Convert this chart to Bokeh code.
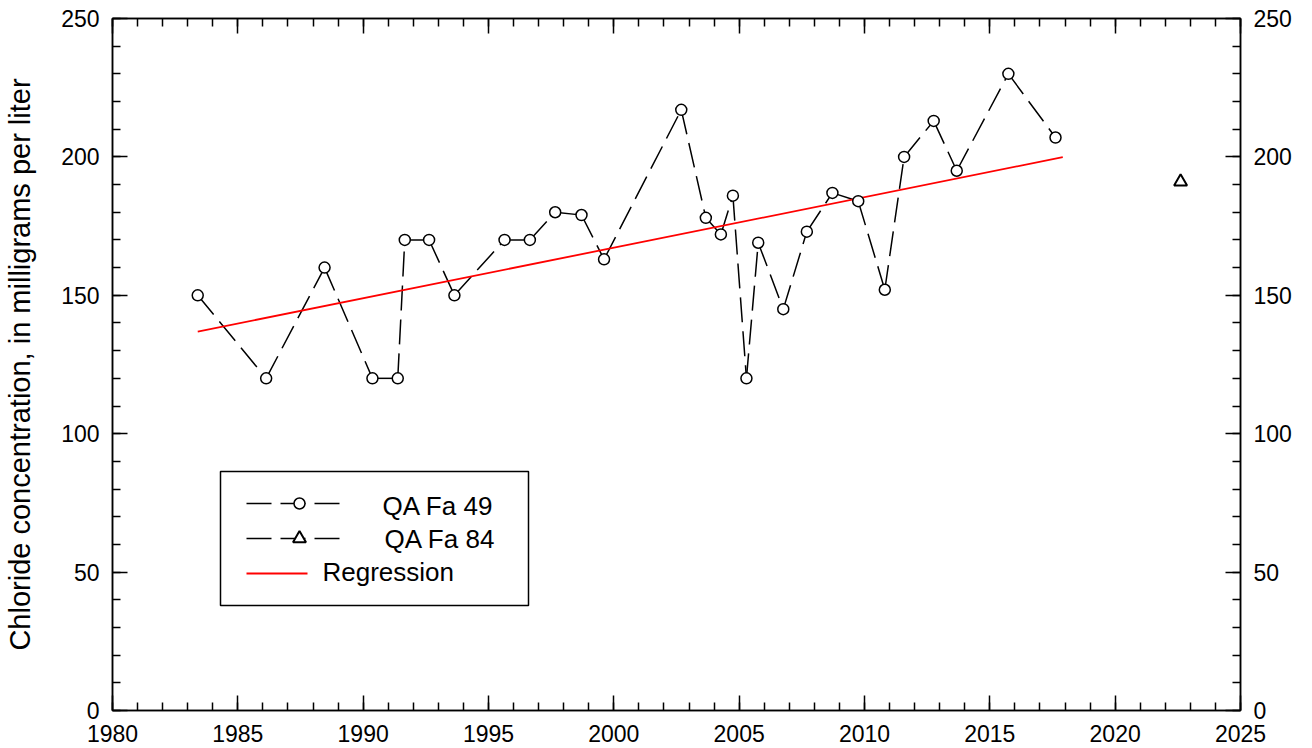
from bokeh.plotting import figure
from bokeh.models import (LinearAxis, SingleIntervalTicker, BoxAnnotation, Label,
                          CustomLabelingPolicy)
from bokeh.embed import file_html
from bokeh.resources import INLINE

# ---------------- data ----------------
fa49_year = [1983.40, 1986.13, 1988.46, 1990.37, 1991.38, 1991.66, 1992.63, 1993.64,
             1995.64, 1996.65, 1997.66, 1998.71, 1999.61, 2002.69, 2003.67, 2004.27,
             2004.75, 2005.29, 2005.76, 2006.76, 2007.70, 2008.72, 2009.75, 2010.81,
             2011.58, 2012.76, 2013.68, 2015.74, 2017.62]
fa49_chloride = [150, 120, 160, 120, 120, 170, 170, 150,
                 170, 170, 180, 179, 163, 217, 178, 172,
                 186, 120, 169, 145, 173, 187, 184, 152,
                 200, 213, 195, 230, 207]
fa84_year = [2022.61]
fa84_chloride = [191]
reg_year = [1983.40, 2017.91]
reg_chloride = [136.9, 199.9]

series_names = ["QA Fa 49", "QA Fa 84", "Regression"]
y_label = "Chloride concentration, in milligrams per liter"

# ---------------- style / layout ----------------
FONT = "Liberation Sans"
TICK_FS = "23px"
LEG_FS = "26px"
LABEL_FS = "29px"
DASH = "25 9"
LW = 1.5

X0, X1, Y0, Y1 = 1980, 2025, 0, 250

p = figure(width=1312, height=748, x_range=(X0, X1), y_range=(Y0, Y1),
           output_backend="svg", toolbar_location=None,
           min_border_left=112, min_border_right=72, min_border_top=18,
           min_border_bottom=38)
p.background_fill_color = "white"
p.border_fill_color = "white"
p.outline_line_color = "black"
p.outline_line_width = LW
p.xgrid.visible = False
p.ygrid.visible = False

xt = SingleIntervalTicker(interval=5, num_minor_ticks=5)
yt = SingleIntervalTicker(interval=50, num_minor_ticks=5)


def style_axis(ax, standoff=13):
    ax.axis_line_color = "black"
    ax.axis_line_width = LW
    ax.major_tick_line_color = "black"
    ax.major_tick_line_width = LW
    ax.minor_tick_line_color = "black"
    ax.minor_tick_line_width = LW
    ax.major_tick_in = 15
    ax.major_tick_out = 0
    ax.minor_tick_in = 8
    ax.minor_tick_out = 0
    ax.major_label_text_font = FONT
    ax.major_label_text_color = "black"
    ax.major_label_text_font_size = TICK_FS
    ax.major_label_standoff = standoff


p.xaxis.ticker = xt
p.yaxis.ticker = yt
style_axis(p.xaxis[0], 14)
style_axis(p.yaxis[0], 13)
p.yaxis.axis_label = y_label
p.yaxis.axis_label_text_font = FONT
p.yaxis.axis_label_text_font_size = LABEL_FS
p.yaxis.axis_label_text_font_style = "normal"
p.yaxis.axis_label_text_color = "black"
p.yaxis.axis_label_standoff = 22

# top axis: ticks only, no labels
top = LinearAxis(ticker=xt)
style_axis(top, 0)
top.major_label_text_font_size = "1px"
top.major_label_policy = CustomLabelingPolicy(code="""
    const result = indices.clone()
    for (const i of indices) { result.unset(i) }
    return result
""")
p.add_layout(top, "above")

right = LinearAxis(ticker=yt)
style_axis(right, 13)
p.add_layout(right, "right")

# ---------------- data marks ----------------
p.segment(x0=fa49_year[:-1], y0=fa49_chloride[:-1], x1=fa49_year[1:], y1=fa49_chloride[1:],
          line_color="black", line_width=LW, line_dash=DASH)
p.line(fa84_year, fa84_chloride, line_color="black", line_width=LW, line_dash=DASH)
p.line(reg_year, reg_chloride, line_color="#ff0000", line_width=1.8)
p.scatter(fa49_year, fa49_chloride, marker="circle", size=11, fill_color="white",
          line_color="black", line_width=LW)
p.scatter(fa84_year, fa84_chloride, marker="triangle", size=13, fill_color="white",
          line_color="black", line_width=2)

# ---------------- legend (layout in reference pixels) ----------------
F_LEFT, F_RIGHT, F_TOP, F_BOTTOM = 112, 1240, 18, 710


def px_x(px):
    return X0 + (px - F_LEFT) * (X1 - X0) / (F_RIGHT - F_LEFT)


def px_y(py):
    return Y0 + (F_BOTTOM - py) * (Y1 - Y0) / (F_BOTTOM - F_TOP)


p.add_layout(BoxAnnotation(left=px_x(220), right=px_x(528), top=px_y(471), bottom=px_y(605),
                           fill_alpha=0, line_color="black", line_alpha=1.0, line_width=LW))
row_y = [503, 538, 573]
p.segment(x0=[px_x(246)] * 2, x1=[px_x(345)] * 2, y0=[px_y(row_y[0]), px_y(row_y[1])],
          y1=[px_y(row_y[0]), px_y(row_y[1])], line_color="black", line_width=LW,
          line_dash=DASH)
p.scatter([px_x(299)], [px_y(row_y[0])], marker="circle", size=11, fill_color="white",
          line_color="black", line_width=LW)
p.scatter([px_x(299)], [px_y(row_y[1])], marker="triangle", size=13, fill_color="white",
          line_color="black", line_width=2)
p.segment(x0=[px_x(246)], x1=[px_x(307)], y0=[px_y(row_y[2])], y1=[px_y(row_y[2])],
          line_color="#ff0000", line_width=1.8)
for name, tx, ty in zip(series_names, [382, 384, 322], [505, 538, 571]):
    p.add_layout(Label(x=px_x(tx), y=px_y(ty), text=name, text_font=FONT,
                       text_font_size=LEG_FS, text_color="black", text_baseline="middle",
                       text_align="left"))

open("out.html", "w").write(file_html(p, INLINE))
